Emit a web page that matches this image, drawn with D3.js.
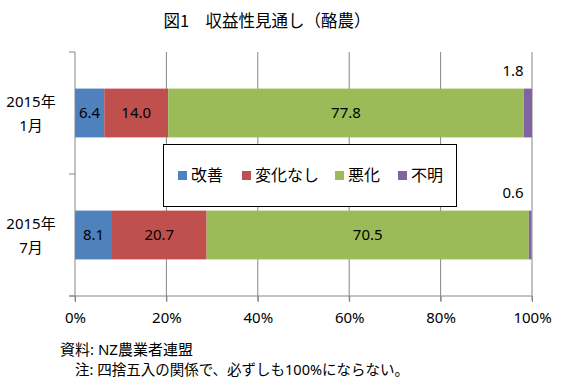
<!DOCTYPE html>
<html>
<head>
<meta charset="utf-8">
<script src="https://cdn.jsdelivr.net/npm/d3@7"></script>
<style>
  body { margin: 0; background: #fff; }
  svg text { font-family: "Noto Sans", "Noto Sans CJK JP", sans-serif; fill: #000; }
</style>
</head>
<body>
<div id="chart"></div>
<script>
// données
const periods = ["2015年|1月", "2015年|7月"];
const seriesNames = ["改善", "変化なし", "悪化", "不明"];
const seriesColors = ["#4F81BD", "#C0504D", "#9BBB59", "#8064A2"];
const kaizen = [6.4, 8.1];
const henka = [14.0, 20.7];
const akka = [77.8, 70.5];
const fumei = [1.8, 0.6];
const xTicks = [0, 20, 40, 60, 80, 100];

const W = 580, H = 388;
const margin = { top: 52, right: 48, bottom: 92, left: 75 };

const svg = d3.select("#chart").append("svg")
  .attr("width", W).attr("height", H);

// titre
svg.append("text")
  .attr("x", 267).attr("y", 27)
  .attr("text-anchor", "middle")
  .style("font-family", "'Noto Sans CJK JP', sans-serif")
  .style("font-size", "16.5px")
  .text("図1　収益性見通し（酪農）");

const x = d3.scaleLinear().domain([0, 100]).range([margin.left, W - margin.right]);
const y = d3.scaleBand().domain(periods)
  .range([margin.top, H - margin.bottom])
  .paddingInner(0.6).paddingOuter(0.3);

// grille verticale
svg.append("g").selectAll("line").data(xTicks.slice(1)).join("line")
  .attr("x1", d => x(d)).attr("x2", d => x(d))
  .attr("y1", margin.top).attr("y2", H - margin.bottom + 5)
  .attr("stroke", "#868686").attr("stroke-width", 1);

// empilement
const rows = periods.map((p, i) => ({
  period: p, 改善: kaizen[i], 変化なし: henka[i], 悪化: akka[i], 不明: fumei[i]
}));
const stack = d3.stack().keys(seriesNames)(rows);

const layers = svg.append("g").selectAll("g").data(stack).join("g")
  .attr("fill", (d, i) => seriesColors[i]);

layers.selectAll("rect").data(d => d).join("rect")
  .attr("x", d => x(d[0]))
  .attr("y", d => y(d.data.period))
  .attr("width", d => x(d[1]) - x(d[0]))
  .attr("height", y.bandwidth());

// étiquettes de valeurs (sauf « 不明 », placé au-dessus)
stack.forEach((layer, k) => {
  layer.forEach(d => {
    const v = d[1] - d[0];
    if (k < 3) {
      svg.append("text")
        .attr("x", (x(d[0]) + x(d[1])) / 2)
        .attr("y", y(d.data.period) + y.bandwidth() / 2 + 5)
        .attr("text-anchor", "middle")
        .style("font-size", "15px")
        .text(v.toFixed(1));
    } else {
      svg.append("text")
        .attr("x", x(100) - 19)
        .attr("y", y(d.data.period) - 13)
        .attr("text-anchor", "middle")
        .style("font-size", "15px")
        .text(v.toFixed(1));
    }
  });
});

// axe des catégories
const yAxisG = svg.append("g");
yAxisG.append("line")
  .attr("x1", margin.left).attr("x2", margin.left)
  .attr("y1", margin.top).attr("y2", H - margin.bottom + 5)
  .attr("stroke", "#868686");
[margin.top, y(periods[1]) - y.step() * y.paddingInner() / 2, H - margin.bottom].forEach(t => {
  yAxisG.append("line")
    .attr("x1", margin.left - 6).attr("x2", margin.left)
    .attr("y1", t).attr("y2", t)
    .attr("stroke", "#868686");
});
periods.forEach(p => {
  const parts = p.split("|");
  const cy = y(p) + y.bandwidth() / 2;
  svg.append("text")
    .attr("x", 31).attr("y", cy - 6)
    .attr("text-anchor", "middle")
    .style("font-size", "15px")
    .text(parts[0]);
  svg.append("text")
    .attr("x", 31).attr("y", cy + 18)
    .attr("text-anchor", "middle")
    .style("font-size", "15px")
    .text(parts[1]);
});

// axe des x
const xAxis = d3.axisBottom(x).tickValues(xTicks).tickFormat(d => d + "%").tickSize(6);
const xg = svg.append("g")
  .attr("transform", `translate(0,${H - margin.bottom})`)
  .call(xAxis);
xg.select(".domain").attr("stroke", "#868686").attr("d", `M${margin.left - 6},0H${W - margin.right}`);
xg.selectAll(".tick line").attr("stroke", "#868686");
xg.selectAll(".tick text")
  .attr("dy", 0).attr("y", 27)
  .style("font-size", "15px")
  .style("font-family", "'Noto Sans', sans-serif")
  .attr("fill", "#000");

// légende
const lg = svg.append("g");
lg.append("rect")
  .attr("x", 163.5).attr("y", 144.5).attr("width", 293).attr("height", 62)
  .attr("fill", "#fff").attr("stroke", "#000").attr("stroke-width", 1);
const legendX = [178, 242, 335, 398];
seriesNames.forEach((n, i) => {
  lg.append("rect")
    .attr("x", legendX[i]).attr("y", 171).attr("width", 9).attr("height", 9)
    .attr("fill", seriesColors[i]);
  lg.append("text")
    .attr("x", legendX[i] + 13).attr("y", 181)
    .style("font-size", "16px")
    .style("font-family", "'Noto Sans CJK JP', sans-serif")
    .text(n);
});

// notes
svg.append("text")
  .attr("x", 60).attr("y", 355)
  .style("font-size", "15px")
  .text("資料: NZ農業者連盟");
svg.append("text")
  .attr("x", 75).attr("y", 375)
  .style("font-size", "14.5px")
  .text("注: 四捨五入の関係で、必ずしも100%にならない。");
</script>
</body>
</html>
